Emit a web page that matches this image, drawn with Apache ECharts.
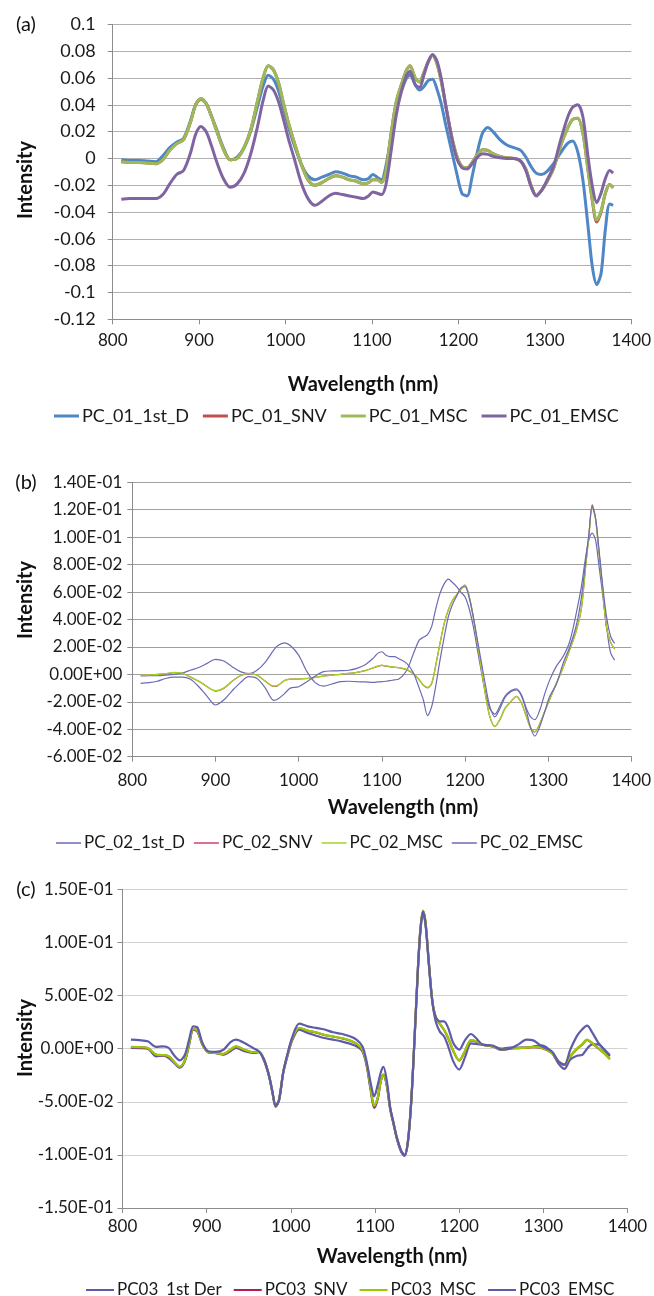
<!DOCTYPE html>
<html>
<head>
<meta charset="utf-8">
<script src="https://cdn.jsdelivr.net/npm/echarts@6/dist/echarts.min.js"></script>
<style>
html,body{margin:0;padding:0;background:#fff;}
#chart{width:654px;height:1296px;}
</style>
</head>
<body>
<div id="chart"></div>
<script>
// ---------- Panel (a) ----------
const A_WL = [
810,820,830,840,850,858,866,874,882,890,
896,902,908,914,920,928,936,944,952,960,
968,974,980,986,992,998,1004,1010,1018,1026,
1034,1042,1050,1058,1066,1074,1082,1090,1096,1101,
1106,1111,1116,1122,1128,1134,1140,1144,1150,1155,
1160,1165,1170,1175,1180,1186,1192,1198,1204,1210,
1216,1222,1228,1234,1240,1248,1256,1264,1272,1278,
1284,1290,1296,1302,1310,1318,1326,1332,1338,1344,
1350,1355,1360,1365,1370,1375,1379];
const A_1ST_D = [
-0.001,-0.0015,-0.0015,-0.002,-0.0025,0.002,0.008,0.012,0.015,0.028,
0.040,0.044,0.041,0.032,0.022,0.008,-0.001,0.001,0.008,0.021,
0.040,0.054,0.062,0.059,0.050,0.036,0.022,0.010,-0.004,-0.013,
-0.016,-0.014,-0.012,-0.010,-0.011,-0.013,-0.014,-0.016,-0.015,-0.012,
-0.014,-0.016,-0.006,0.016,0.037,0.050,0.060,0.062,0.055,0.051,
0.0535,0.058,0.059,0.052,0.041,0.023,0.006,-0.011,-0.026,-0.028,
-0.013,0.005,0.019,0.023,0.020,0.014,0.010,0.008,0.006,0.001,
-0.006,-0.011,-0.012,-0.010,-0.004,0.004,0.011,0.013,0.005,-0.016,
-0.051,-0.081,-0.094,-0.086,-0.053,-0.034,-0.035];
const A_SNV = [
-0.0025,-0.003,-0.003,-0.0035,-0.004,-0.001,0.006,0.011,0.014,0.027,
0.040,0.0445,0.041,0.032,0.021,0.007,-0.001,0.000,0.008,0.022,
0.044,0.060,0.069,0.066,0.056,0.040,0.025,0.012,-0.004,-0.016,
-0.020,-0.018,-0.015,-0.013,-0.014,-0.016,-0.017,-0.019,-0.018,-0.016,
-0.016,-0.018,-0.010,0.018,0.042,0.055,0.066,0.069,0.060,0.057,
0.064,0.072,0.077,0.071,0.058,0.037,0.017,0.002,-0.006,-0.007,
-0.003,0.003,0.0065,0.006,0.0035,0.0015,0.0005,0.0,-0.002,-0.008,
-0.020,-0.0275,-0.024,-0.018,-0.0075,0.009,0.022,0.029,0.030,0.019,
-0.009,-0.032,-0.0475,-0.040,-0.026,-0.0195,-0.022];
const A_MSC = [
-0.0025,-0.003,-0.003,-0.0035,-0.004,-0.001,0.006,0.011,0.014,0.027,
0.040,0.0445,0.041,0.032,0.021,0.007,-0.001,0.000,0.008,0.022,
0.044,0.060,0.069,0.066,0.056,0.040,0.025,0.012,-0.004,-0.016,
-0.020,-0.018,-0.015,-0.013,-0.014,-0.016,-0.017,-0.019,-0.018,-0.016,
-0.016,-0.018,-0.010,0.018,0.042,0.055,0.066,0.069,0.060,0.057,
0.064,0.072,0.077,0.071,0.058,0.037,0.017,0.002,-0.006,-0.007,
-0.003,0.003,0.0065,0.006,0.0035,0.0015,0.0005,0.0,-0.002,-0.008,
-0.020,-0.0275,-0.024,-0.018,-0.0075,0.009,0.022,0.029,0.030,0.019,
-0.009,-0.031,-0.046,-0.039,-0.026,-0.0195,-0.022];
const A_EMSC = [
-0.0305,-0.030,-0.030,-0.030,-0.030,-0.027,-0.019,-0.012,-0.009,0.004,
0.018,0.0237,0.020,0.010,-0.002,-0.015,-0.0215,-0.019,-0.011,0.004,
0.025,0.043,0.054,0.051,0.042,0.028,0.013,0.000,-0.018,-0.030,
-0.035,-0.032,-0.028,-0.026,-0.027,-0.028,-0.029,-0.030,-0.028,-0.025,
-0.026,-0.027,-0.020,0.005,0.032,0.050,0.062,0.065,0.055,0.053,
0.062,0.072,0.0775,0.073,0.060,0.037,0.016,0.000,-0.007,-0.008,
-0.004,0.001,0.0035,0.003,0.0015,0.0005,0.0,0.0,-0.002,-0.009,
-0.021,-0.028,-0.024,-0.017,-0.006,0.013,0.030,0.038,0.040,0.031,
0.001,-0.021,-0.033,-0.026,-0.015,-0.009,-0.011];
const A_NAMES = ['PC_01_1st_D','PC_01_SNV','PC_01_MSC','PC_01_EMSC'];

// ---------- Panel (b) ----------
const B_WL = [
810,820,830,840,850,860,870,880,890,900,
910,920,930,940,950,960,970,975,983,990,
1000,1010,1020,1030,1040,1050,1060,1070,1080,1090,
1095,1100,1105,1110,1115,1120,1130,1138,1145,1150,
1155,1160,1165,1170,1175,1180,1185,1190,1195,1200,
1205,1210,1215,1220,1225,1230,1236,1242,1248,1255,
1262,1268,1274,1279,1284,1290,1296,1302,1310,1318,
1326,1334,1340,1345,1349,1353,1357,1361,1365,1370,
1375,1380];
const B_1ST_D = [
-0.001,-0.001,-0.001,-0.0005,0.000,0.001,0.003,0.005,0.008,0.011,
0.0097,0.0056,0.002,0.0005,0.003,0.009,0.0177,0.021,0.023,0.021,
0.014,0.002,-0.006,-0.0085,-0.007,-0.0053,-0.005,-0.0053,-0.0055,-0.0058,
-0.0055,-0.0053,-0.005,-0.0046,-0.004,-0.0036,0.003,0.015,0.025,0.027,
0.029,0.035,0.048,0.059,0.066,0.0694,0.067,0.064,0.060,0.0566,
0.048,0.035,0.018,0.001,-0.014,-0.025,-0.029,-0.023,-0.016,-0.012,
-0.0105,-0.015,-0.025,-0.031,-0.033,-0.026,-0.014,-0.004,0.006,0.013,
0.024,0.045,0.064,0.085,0.098,0.103,0.098,0.080,0.061,0.036,
0.016,0.0104];
const B_SNV = [
-0.001,-0.0008,0.0,0.0005,0.0012,0.0008,-0.002,-0.005,-0.009,-0.0122,
-0.0102,-0.005,-0.001,0.0005,-0.0006,-0.005,-0.0088,-0.0082,-0.0045,-0.0035,
-0.0034,-0.003,-0.0022,-0.0012,-0.0005,0.0,0.0007,0.0015,0.0027,0.0048,
0.0058,0.0066,0.006,0.0055,0.0051,0.0049,0.0035,0.0004,-0.004,-0.008,
-0.0098,-0.0067,0.007,0.0226,0.037,0.047,0.054,0.058,0.062,0.065,
0.057,0.042,0.023,0.003,-0.016,-0.031,-0.038,-0.033,-0.025,-0.020,
-0.016,-0.021,-0.031,-0.039,-0.042,-0.036,-0.027,-0.018,-0.0065,0.005,
0.018,0.032,0.048,0.078,0.101,0.1235,0.114,0.090,0.066,0.035,
0.0235,0.0185];
const B_MSC = [
-0.0005,-0.0005,0.0,0.0005,0.0015,0.001,-0.002,-0.005,-0.009,-0.0119,
-0.010,-0.005,-0.001,0.0007,-0.0005,-0.005,-0.0085,-0.008,-0.0045,-0.0035,
-0.0034,-0.003,-0.0022,-0.0012,-0.0005,0.0,0.0007,0.0015,0.0027,0.005,
0.006,0.0068,0.0062,0.0056,0.0052,0.005,0.0036,0.0005,-0.004,-0.0078,
-0.0095,-0.0065,0.007,0.0226,0.037,0.047,0.054,0.058,0.062,0.065,
0.057,0.042,0.023,0.003,-0.016,-0.031,-0.038,-0.033,-0.025,-0.020,
-0.016,-0.021,-0.031,-0.039,-0.0417,-0.036,-0.027,-0.018,-0.0065,0.005,
0.018,0.032,0.048,0.078,0.100,0.1225,0.113,0.090,0.066,0.035,
0.0235,0.0185];
const B_EMSC = [
-0.0065,-0.006,-0.005,-0.003,-0.002,-0.002,-0.0036,-0.009,-0.016,-0.0223,
-0.0187,-0.012,-0.006,-0.0017,-0.003,-0.010,-0.019,-0.018,-0.014,-0.010,
-0.009,-0.0053,-0.0012,0.002,0.0025,0.0027,0.003,0.0044,0.007,0.012,
0.0153,0.0165,0.014,0.013,0.013,0.0116,0.008,0.001,-0.010,-0.0187,
-0.030,-0.0235,-0.008,0.0104,0.027,0.042,0.051,0.057,0.063,0.064,
0.056,0.042,0.025,0.008,-0.009,-0.0235,-0.031,-0.025,-0.017,-0.0126,
-0.0114,-0.016,-0.027,-0.039,-0.045,-0.038,-0.027,-0.016,-0.007,0.008,
0.020,0.036,0.056,0.082,0.102,0.1225,0.114,0.092,0.068,0.043,
0.028,0.0226];
const B_NAMES = ['PC_02_1st_D','PC_02_SNV','PC_02_MSC','PC_02_EMSC'];

// ---------- Panel (c) ----------
const C_WL = [
810,820,830,840,848,855,862,868,874,879,
884,889,895,902,910,920,928,935,945,955,
962,968,974,978,982,986,991,996,1002,1010,
1020,1030,1040,1050,1060,1070,1078,1085,1090,1095,
1099,1103,1107,1110,1114,1118,1122,1126,1131,1135,
1139,1143,1147,1151,1154,1157,1160,1164,1168,1172,
1177,1182,1187,1193,1200,1207,1214,1220,1228,1240,
1250,1260,1270,1280,1288,1298,1310,1318,1325,1332,
1340,1346,1352,1358,1365,1372,1379];
const C_1ST_DER = [
0.0006,0.0005,0.0,-0.0072,-0.0066,-0.0088,-0.014,-0.018,-0.012,0.003,
0.0178,0.016,0.0037,-0.0034,-0.004,-0.0056,-0.0025,0.0006,-0.0025,-0.004,
-0.0034,-0.011,-0.026,-0.041,-0.0548,-0.049,-0.023,-0.007,0.0085,0.018,
0.0147,0.0122,0.010,0.0085,0.0069,0.0047,0.0022,-0.0025,-0.016,-0.040,
-0.0558,-0.048,-0.030,-0.0245,-0.035,-0.057,-0.071,-0.085,-0.097,-0.101,
-0.089,-0.051,0.009,0.074,0.111,0.128,0.117,0.079,0.045,0.026,
0.016,0.0116,0.002,-0.012,-0.0197,-0.008,0.005,0.0045,0.0035,0.0022,
0.0,0.001,0.001,0.001,0.002,0.003,-0.0034,-0.014,-0.019,-0.0103,
-0.0066,-0.006,0.000,0.004,0.004,-0.001,-0.0072];
const C_SNV = [
0.0014,0.0012,0.0005,-0.0058,-0.0062,-0.0074,-0.013,-0.0172,-0.011,0.004,
0.0183,0.0168,0.004,-0.0035,-0.0041,-0.0051,-0.0012,0.002,-0.0012,-0.0035,
-0.0031,-0.010,-0.025,-0.040,-0.0542,-0.048,-0.022,-0.006,0.0098,0.0193,
0.0168,0.0152,0.0128,0.0114,0.0098,0.0076,0.0045,-0.0012,-0.014,-0.038,
-0.0545,-0.0472,-0.030,-0.0248,-0.034,-0.056,-0.070,-0.084,-0.096,-0.1002,
-0.088,-0.050,0.010,0.076,0.113,0.1295,0.119,0.081,0.046,0.030,
0.0232,0.0178,0.0098,-0.0022,-0.0112,-0.0022,0.0078,0.0068,0.0037,0.0021,
-0.001,0.0,0.0005,0.001,0.0015,0.0007,-0.0041,-0.0122,-0.0152,-0.0072,
-0.0002,0.0038,0.0083,0.0051,0.0005,-0.0041,-0.0098];
const C_MSC = [
0.0016,0.0014,0.0006,-0.0056,-0.006,-0.0072,-0.013,-0.017,-0.011,0.004,
0.0185,0.017,0.004,-0.0034,-0.004,-0.005,-0.001,0.0022,-0.001,-0.0034,
-0.003,-0.010,-0.025,-0.040,-0.054,-0.048,-0.022,-0.006,0.010,0.0195,
0.017,0.0154,0.013,0.0116,0.010,0.0078,0.0047,-0.001,-0.014,-0.038,
-0.054,-0.047,-0.030,-0.0245,-0.034,-0.056,-0.070,-0.084,-0.096,-0.100,
-0.088,-0.050,0.010,0.076,0.113,0.130,0.119,0.081,0.046,0.030,
0.0235,0.018,0.010,-0.002,-0.011,-0.002,0.008,0.007,0.0038,0.0022,
-0.001,0.0,0.0005,0.001,0.0016,0.0008,-0.004,-0.012,-0.015,-0.007,
0.0,0.004,0.0085,0.0053,0.0006,-0.004,-0.0097];
const C_EMSC = [
0.0085,0.008,0.0069,0.0016,0.0022,0.0006,-0.007,-0.011,-0.006,0.008,
0.021,0.020,0.0053,-0.0025,-0.003,-0.001,0.006,0.0085,0.0053,0.0006,
-0.0025,-0.010,-0.025,-0.040,-0.054,-0.048,-0.022,-0.005,0.0116,0.0235,
0.021,0.0195,0.018,0.0154,0.014,0.0116,0.0085,0.0022,-0.012,-0.033,
-0.045,-0.035,-0.022,-0.0172,-0.030,-0.055,-0.070,-0.084,-0.096,-0.1006,
-0.088,-0.050,0.010,0.075,0.112,0.129,0.118,0.080,0.045,0.030,
0.0257,0.0257,0.0194,0.0053,-0.001,0.008,0.0138,0.010,0.0038,0.003,
-0.001,0.000,0.0038,0.0085,0.0078,0.0022,-0.0025,-0.012,-0.015,-0.001,
0.012,0.018,0.0216,0.0154,0.006,-0.0003,-0.006];
const C_NAMES = ['PC03_1st Der','PC03_SNV','PC03_MSC','PC03_EMSC'];

const X_TICKS = [800, 900, 1000, 1100, 1200, 1300, 1400];
const PANEL_LABELS = ['(a)', '(b)', '(c)'];
const Y_TITLE = 'Intensity';
const X_TITLE = 'Wavelength (nm)';

// ---------- helpers ----------
function zip(xs, ys) { return xs.map((x, i) => [x, ys[i]]); }
function plainFmt(v) { return String(Math.round(v * 100) / 100); }
function intFmt(v) { return String(Math.round(v)); }
function sciFmt(v) {
  if (Math.abs(v) < 1e-12) return '0.00E+00';
  let e = Math.floor(Math.log10(Math.abs(v)) + 1e-9);
  let m = v / Math.pow(10, e);
  let es = (e < 0 ? '-' : '+') + String(Math.abs(e)).padStart(2, '0');
  return m.toFixed(2) + 'E' + es;
}

const FONT = 'Lato, "Open Sans", sans-serif';
const chart = echarts.init(document.getElementById('chart'), null, {renderer: 'canvas'});

const grids = [
  {left: 112.7, right: 20, top: 24.3, height: 295},
  {left: 132.3, right: 20.7, top: 482.3, height: 274.4},
  {left: 122.5, right: 26.5, top: 889.3, height: 318.7}
];

function xAxis(i, margin) {
  return {
    type: 'value', gridIndex: i, min: X_TICKS[0], max: X_TICKS[X_TICKS.length - 1], interval: 100,
    axisLine: {show: true, onZero: false, lineStyle: {color: '#8c8c8c', width: 1}},
    axisTick: {show: true, length: 5, lineStyle: {color: '#8c8c8c'}},
    axisLabel: {color: '#1a1a1a', fontSize: 17, fontFamily: FONT, margin: margin, formatter: intFmt},
    splitLine: {show: false}
  };
}
function yAxis(i, min, max, interval, fmt, margin, gridColor, fontSize) {
  return {
    type: 'value', gridIndex: i, min: min, max: max, interval: interval,
    axisLine: {show: true, lineStyle: {color: '#8c8c8c', width: 1}},
    axisTick: {show: true, length: 5, lineStyle: {color: '#8c8c8c'}},
    axisLabel: {color: '#1a1a1a', fontSize: fontSize, fontFamily: FONT, margin: margin, formatter: fmt},
    splitLine: {show: true, lineStyle: {color: gridColor, width: 1}}
  };
}

function mkSeries(name, wl, vals, idx, color, width) {
  return {
    name: name, type: 'line', xAxisIndex: idx, yAxisIndex: idx,
    data: zip(wl, vals), showSymbol: false, symbol: 'none', smooth: 0.3,
    lineStyle: {color: color, width: width}, itemStyle: {color: color},
    emphasis: {disabled: true}, animation: false
  };
}

const colA = ['#4f86c6', '#c0504d', '#9bbb59', '#8064a2'];
const colB = ['#6b6bb5', '#d0406e', '#a3d420', '#6b6bb5'];
const colC = ['#5c5cab', '#b81a5a', '#99cc00', '#5c5cab'];

const series = [
  mkSeries(A_NAMES[0], A_WL, A_1ST_D, 0, colA[0], 3),
  mkSeries(A_NAMES[1], A_WL, A_SNV, 0, colA[1], 3),
  mkSeries(A_NAMES[2], A_WL, A_MSC, 0, colA[2], 3),
  mkSeries(A_NAMES[3], A_WL, A_EMSC, 0, colA[3], 3),
  mkSeries(B_NAMES[0], B_WL, B_1ST_D, 1, colB[0], 1.2),
  mkSeries(B_NAMES[1], B_WL, B_SNV, 1, colB[1], 1.2),
  mkSeries(B_NAMES[2], B_WL, B_MSC, 1, colB[2], 1.3),
  mkSeries(B_NAMES[3], B_WL, B_EMSC, 1, colB[3], 1.2),
  mkSeries(C_NAMES[0], C_WL, C_1ST_DER, 2, colC[0], 2.2),
  mkSeries(C_NAMES[1], C_WL, C_SNV, 2, colC[1], 2.2),
  mkSeries(C_NAMES[2], C_WL, C_MSC, 2, colC[2], 2.2),
  mkSeries(C_NAMES[3], C_WL, C_EMSC, 2, colC[3], 2.2)
];

function legend(names, left, centerY, itemWidth, itemHeight, gap, fontSize) {
  return {
    data: names, left: left, top: centerY - 10, orient: 'horizontal', padding: 0,
    itemWidth: itemWidth, itemHeight: itemHeight, itemGap: gap, icon: 'rect',
    selectedMode: false,
    textStyle: {color: '#1a1a1a', fontSize: fontSize, fontFamily: FONT, lineHeight: 20, padding: [0, 0, 0, -2]}
  };
}

function txt(text, x, y, size, weight, rot) {
  return {
    type: 'text', x: x, y: y, rotation: rot || 0, silent: true,
    style: {text: text, x: 0, y: 0, fontSize: size, fontWeight: weight, fontFamily: FONT,
            fill: '#111', align: 'center', verticalAlign: 'middle'}
  };
}

const option = {
  backgroundColor: '#ffffff',
  animation: false,
  grid: grids,
  xAxis: [xAxis(0, 13), xAxis(1, 15), xAxis(2, 10)],
  yAxis: [
    yAxis(0, -0.12, 0.1, 0.02, plainFmt, 17, '#b0b0b0', 18),
    yAxis(1, -0.06, 0.14, 0.02, sciFmt, 10, '#a0a0a0', 17),
    yAxis(2, -0.15, 0.15, 0.05, sciFmt, 9, '#d2d2d2', 17)
  ],
  legend: [
    legend(A_NAMES, 54, 416, 25, 3, 14, 18),
    legend(B_NAMES, 56, 843, 25, 1.5, 9, 17),
    legend(C_NAMES, 86, 1290, 28, 2, 12, 17)
  ],
  graphic: [
    txt(PANEL_LABELS[0], 26, 25, 20, 'normal'),
    txt(PANEL_LABELS[1], 26, 483, 20, 'normal'),
    txt(PANEL_LABELS[2], 26, 890, 20, 'normal'),
    txt(Y_TITLE, 26, 180, 20, 'bold', Math.PI / 2),
    txt(Y_TITLE, 26, 600, 20, 'bold', Math.PI / 2),
    txt(Y_TITLE, 26, 1038, 20, 'bold', Math.PI / 2),
    txt(X_TITLE, 363, 385, 20, 'bold'),
    txt(X_TITLE, 403, 808, 20, 'bold'),
    txt(X_TITLE, 392, 1257, 20, 'bold')
  ],
  series: series
};
chart.setOption(option);
</script>
</body>
</html>
